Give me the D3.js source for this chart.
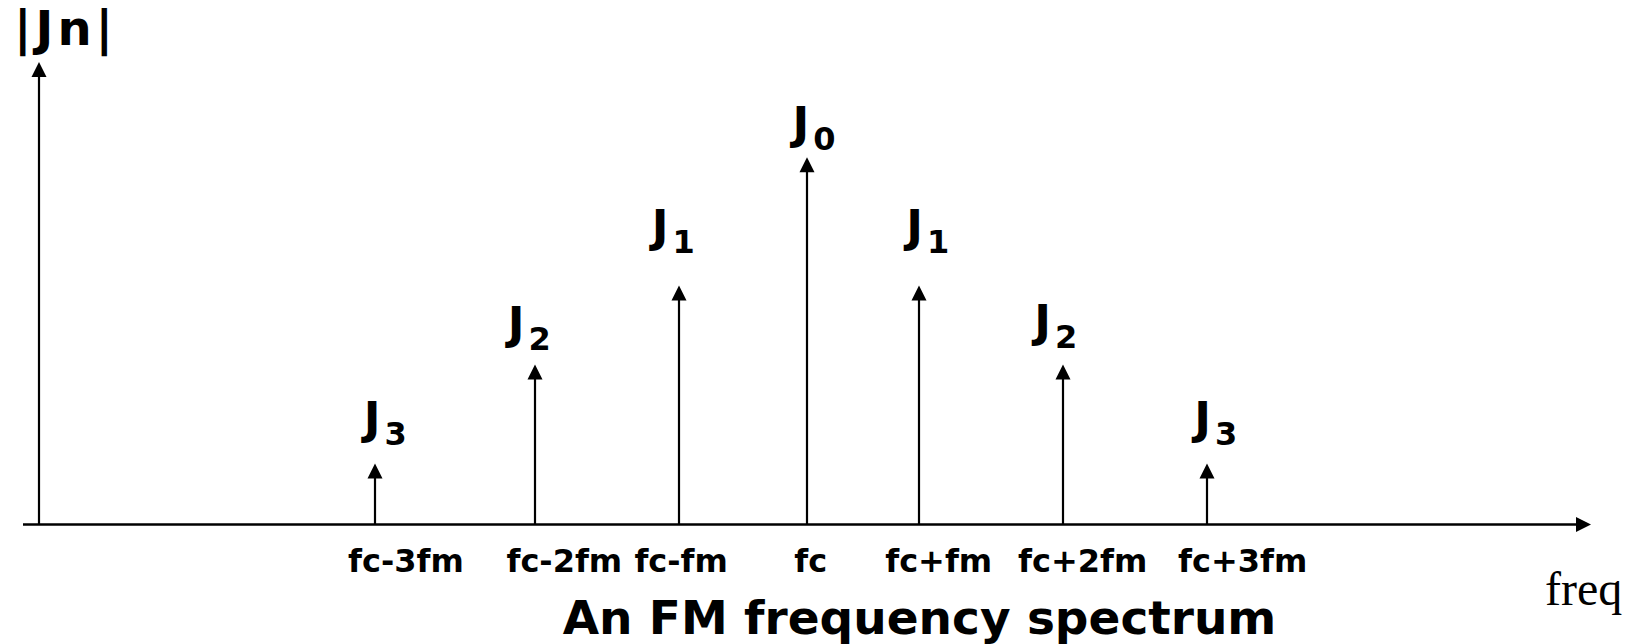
<!DOCTYPE html>
<html>
<head>
<meta charset="utf-8">
<script src="https://cdn.jsdelivr.net/npm/d3@7"></script>
<style>
  html, body { margin: 0; padding: 0; background: #fff; }
  svg { display: block; }
  .bold { font-family: "DejaVu Sans", Verdana, sans-serif; font-weight: bold; fill: #000; }
</style>
</head>
<body>
<svg id="chart" width="1631" height="644"></svg>
<script>
// Spectral lines: offset from the carrier (in units of 1/16 of the drawing grid) and relative magnitude |Jn|
const orders     = [3, 2, 1, 0, 1, 2, 3];
const freqs      = [-27, -17, -8, 0, 7, 16, 25];
const magnitudes = [13.2, 34.6, 51.7, 79.4, 51.7, 34.6, 13.2];

// Frequency tick labels and where they sit along the axis
const tickLabels = ["fc-3fm", "fc-2fm", "fc-fm", "fc", "fc+fm", "fc+2fm", "fc+3fm"];
const tickFreqs  = [-25.1, -15.2, -7.9, 0.2, 8.2, 17.2, 27.2];

// Anchor (freq, level) of each "Jn" label above its line
const labelFreqs  = [-27.7, -18.7, -9.7, -0.9, 6.2, 14.2, 24.2];
const labelLevels = [19.5, 40.1, 61.0, 83.3, 61.0, 40.5, 19.5];

const svg = d3.select("#chart");

const x = d3.scaleLinear().domain([-49, 49]).range([23, 1591]);
const y = d3.scaleLinear().domain([0, 100]).range([524.5, 62]);

const head = 15, halfW = 7.5;

// arrow head pointing up / right
const upHead = (cx, tipY) => `M${cx},${tipY}L${cx - halfW},${tipY + head}L${cx + halfW},${tipY + head}Z`;
const rightHead = (tipX, cy) => `M${tipX},${cy}L${tipX - head},${cy - halfW}L${tipX - head},${cy + halfW}Z`;

// horizontal frequency axis
svg.append("line")
  .attr("x1", x(-49)).attr("x2", x(49) - head + 1)
  .attr("y1", y(0)).attr("y2", y(0))
  .attr("stroke", "#000").attr("stroke-width", 2.7);
svg.append("path").attr("d", rightHead(x(49), y(0))).attr("fill", "#000");

// vertical |Jn| axis
svg.append("line")
  .attr("x1", x(-48)).attr("x2", x(-48))
  .attr("y1", y(0)).attr("y2", y(100) + head - 1)
  .attr("stroke", "#000").attr("stroke-width", 2.2);
svg.append("path").attr("d", upHead(x(-48), y(100))).attr("fill", "#000");

const lines = freqs.map((f, i) => ({ f, m: magnitudes[i], n: orders[i], lf: labelFreqs[i], ll: labelLevels[i] }));

// spectral lines
const g = svg.append("g");
g.selectAll("line.stem").data(lines).join("line")
  .attr("class", "stem")
  .attr("x1", d => x(d.f)).attr("x2", d => x(d.f))
  .attr("y1", y(0)).attr("y2", d => y(d.m) + head - 1)
  .attr("stroke", "#000").attr("stroke-width", 2.2);
g.selectAll("path.head").data(lines).join("path")
  .attr("class", "head")
  .attr("d", d => upHead(x(d.f), y(d.m)))
  .attr("fill", "#000");

// Jn labels with subscript
const lab = g.selectAll("text.jn").data(lines).join("text")
  .attr("class", "jn bold")
  .attr("x", d => x(d.lf)).attr("y", d => y(d.ll))
  .style("font-size", "45px");
lab.append("tspan").text("J");
lab.append("tspan").attr("dx", 4).attr("dy", 11).style("font-size", "32px").text(d => d.n);

// tick labels along the frequency axis
const axis = d3.axisBottom(x)
  .tickValues(tickFreqs)
  .tickSize(0)
  .tickFormat((d, i) => tickLabels[i]);
const ax = svg.append("g").attr("transform", `translate(0,${y(0)})`).call(axis);
ax.select(".domain").remove();
ax.selectAll("text")
  .attr("dy", null).attr("y", 47.5)
  .attr("class", "bold")
  .style("font-size", "32px")
  .attr("font-family", null);

// axis titles
svg.append("text").attr("class", "bold")
  .attr("x", 14).attr("y", 45)
  .style("font-size", "48px")
  .style("letter-spacing", "4px")
  .text("|Jn|");

svg.append("text")
  .attr("x", 1545).attr("y", 605)
  .style("font-family", "'Liberation Serif', 'Times New Roman', serif")
  .style("font-size", "48px")
  .text("freq");

// caption
svg.append("text").attr("class", "bold")
  .attr("x", 919.5).attr("y", 634)
  .attr("text-anchor", "middle")
  .style("font-size", "47px")
  .text("An FM frequency spectrum");
</script>
</body>
</html>
